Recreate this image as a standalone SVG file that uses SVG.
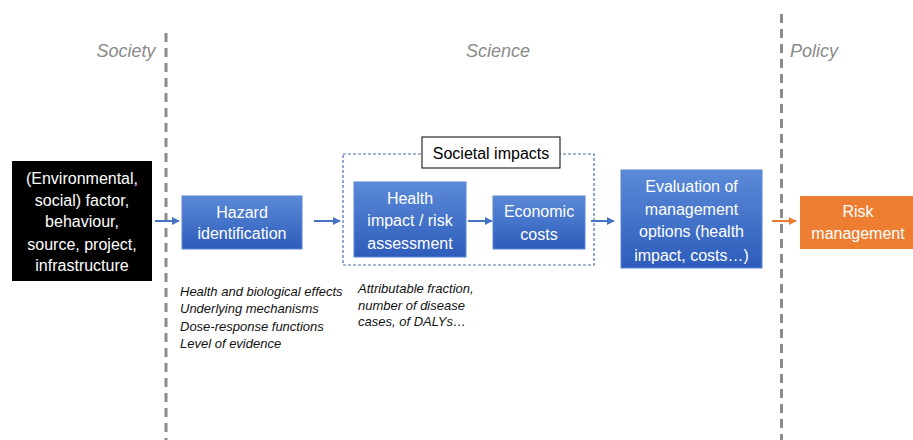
<svg xmlns="http://www.w3.org/2000/svg" width="913" height="440" viewBox="0 0 913 440">
<style>
.lane{stroke:#8c8c8c;stroke-width:3;stroke-dasharray:9 6;fill:none}
.hdr{font-family:"Liberation Sans",Arial,sans-serif;font-style:italic;font-size:18px;fill:#8a8a8a;text-anchor:middle}
.bt{font-family:"Liberation Sans",Arial,sans-serif;font-size:16px;fill:#fff;text-anchor:middle}
.note{font-family:"Liberation Sans",Arial,sans-serif;font-style:italic;font-size:13px;fill:#111}
.blue{fill:url(#g);stroke:#5b86d2;stroke-width:1}
.conn{stroke:#4472c4;stroke-width:2;fill:none;marker-end:url(#ab)}
</style>
<defs>
<linearGradient id="g" x1="0" y1="0" x2="0" y2="1">
<stop offset="0" stop-color="#5b8ad8"/>
<stop offset="1" stop-color="#2d5cbb"/>
</linearGradient>
<marker id="ab" viewBox="0 0 10 10" refX="9" refY="5" markerWidth="4" markerHeight="4" orient="auto">
<path d="M0,0 L10,5 L0,10 z" fill="#4472c4"/>
</marker>
<marker id="ao" viewBox="0 0 10 10" refX="9" refY="5" markerWidth="4" markerHeight="4" orient="auto">
<path d="M0,0 L10,5 L0,10 z" fill="#ed7d31"/>
</marker>
</defs>
<rect width="913" height="440" fill="#fff"/>
<g id="lanes">
<line class="lane" x1="166" y1="33" x2="166" y2="440"/>
<line class="lane" x1="781.5" y1="14" x2="781.5" y2="440"/>
<text class="hdr" x="126" y="57">Society</text>
<text class="hdr" x="498" y="57">Science</text>
<text class="hdr" x="814" y="57">Policy</text>
</g>
<g id="societal-impacts">
<rect x="343" y="154" width="251" height="111" fill="none" stroke="#4a6fb0" stroke-width="1.2" stroke-dasharray="3 2"/>
<rect x="422" y="137" width="138" height="31" fill="#fff" stroke="#000" stroke-width="1"/>
<text x="491" y="159" font-family="'Liberation Sans',Arial,sans-serif" font-size="16" text-anchor="middle" fill="#000">Societal impacts</text>
</g>
<g id="factor">
<rect x="12" y="161" width="140" height="120" fill="#000"/>
<text class="bt"><tspan x="82" y="184">(Environmental,</tspan><tspan x="82" y="206">social) factor,</tspan><tspan x="82" y="227">behaviour,</tspan><tspan x="82" y="250">source, project,</tspan><tspan x="82" y="271">infrastructure</tspan></text>
</g>
<g id="hazard">
<rect class="blue" x="182" y="196" width="120" height="53"/>
<text class="bt"><tspan x="242" y="218">Hazard</tspan><tspan x="242" y="239">identification</tspan></text>
</g>
<g id="health">
<rect class="blue" x="354" y="182" width="112" height="75"/>
<text class="bt"><tspan x="410" y="204">Health</tspan><tspan x="410" y="226">impact / risk</tspan><tspan x="410" y="249">assessment</tspan></text>
</g>
<g id="economic">
<rect class="blue" x="493" y="196" width="92" height="53"/>
<text class="bt"><tspan x="539" y="217">Economic</tspan><tspan x="539" y="240">costs</tspan></text>
</g>
<g id="evaluation">
<rect class="blue" x="621" y="170" width="141" height="98"/>
<text class="bt"><tspan x="691.5" y="192">Evaluation of</tspan><tspan x="691.5" y="215">management</tspan><tspan x="691.5" y="237">options (health</tspan><tspan x="691.5" y="261">impact, costs…)</tspan></text>
</g>
<g id="risk">
<rect x="800" y="196" width="113" height="53" fill="#ed7d31"/>
<text class="bt"><tspan x="858" y="217">Risk</tspan><tspan x="858" y="239">management</tspan></text>
</g>
<g id="notes">
<text class="note"><tspan x="180" y="296">Health and biological effects</tspan><tspan x="180" y="313">Underlying mechanisms</tspan><tspan x="180" y="331">Dose-response functions</tspan><tspan x="180" y="348">Level of evidence</tspan></text>
<text class="note"><tspan x="358" y="293">Attributable fraction,</tspan><tspan x="358" y="310">number of disease</tspan><tspan x="358" y="326">cases, of DALYs…</tspan></text>
</g>
<g id="connectors">
<line class="conn" x1="155" y1="221" x2="179" y2="221"/>
<line class="conn" x1="314" y1="221" x2="340" y2="221"/>
<line class="conn" x1="468" y1="221" x2="492" y2="221"/>
<line class="conn" x1="591" y1="221" x2="614" y2="221"/>
<line x1="772" y1="221" x2="796" y2="221" stroke="#ed7d31" stroke-width="2" marker-end="url(#ao)"/>
</g>
</svg>
